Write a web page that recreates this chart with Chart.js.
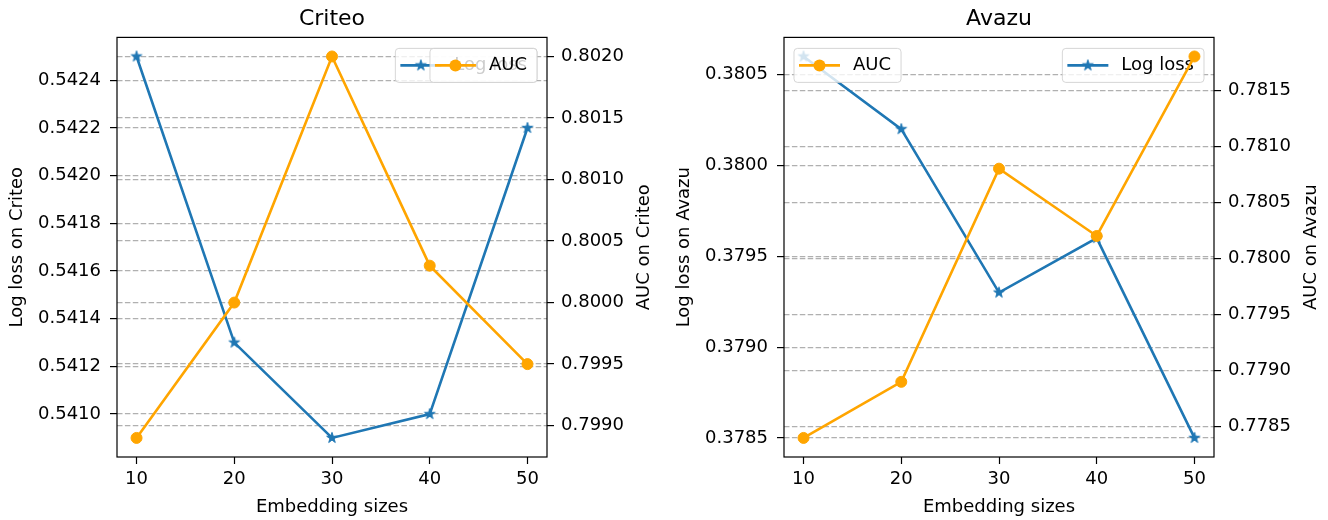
<!DOCTYPE html>
<html>
<head>
<meta charset="utf-8">
<script src="https://cdn.jsdelivr.net/npm/chart.js@4.4.1/dist/chart.umd.min.js"></script>
<style>
  html, body { margin: 0; padding: 0; background: #fff; }
  #wrap { position: relative; width: 1328px; height: 520px; }
  .panel { position: absolute; top: 0; width: 664px; height: 520px; }
</style>
</head>
<body>
<div id="wrap">
  <div class="panel" style="left:0"><canvas id="criteoChart" width="664" height="520"></canvas></div>
  <div class="panel" style="left:664px"><canvas id="avazuChart" width="664" height="520"></canvas></div>
</div>
<script>
// values
var embSizes = [10, 20, 30, 40, 50];
var criteoLogloss = [0.5425, 0.5413, 0.5409, 0.5410, 0.5422];
var criteoAuc = [0.7989, 0.8000, 0.8020, 0.8003, 0.7995];
var avazuLogloss = [0.3806, 0.3802, 0.3793, 0.3796, 0.3785];
var avazuAuc = [0.7784, 0.7789, 0.7808, 0.7802, 0.7818];

var criteoLossTicks = [0.5410, 0.5412, 0.5414, 0.5416, 0.5418, 0.5420, 0.5422, 0.5424];
var criteoAucTicks = [0.7990, 0.7995, 0.8000, 0.8005, 0.8010, 0.8015, 0.8020];
var avazuLossTicks = [0.3785, 0.3790, 0.3795, 0.3800, 0.3805];
var avazuAucTicks = [0.7785, 0.7790, 0.7795, 0.7800, 0.7805, 0.7810, 0.7815];

var BLUE = '#1f77b4';
var ORANGE = '#ffa500';
var FONT = '"DejaVu Sans"';

Chart.defaults.font.family = FONT;
Chart.defaults.color = '#000';

// matplotlib style autoscale: 5% margin
function padRange(vals) {
  var lo = Math.min.apply(null, vals), hi = Math.max.apply(null, vals);
  var m = (hi - lo) * 0.05;
  return { min: lo - m, max: hi + m };
}

// filled five point star like matplotlib '*'
function starCanvas(color, r) {
  var size = Math.ceil(2 * r + 4);
  var c = document.createElement('canvas');
  c.width = size; c.height = size;
  var g = c.getContext('2d');
  var cx = size / 2, cy = size / 2;
  g.beginPath();
  for (var i = 0; i < 10; i++) {
    var rad = i % 2 === 0 ? r : r * 0.381966;
    var a = -Math.PI / 2 + i * Math.PI / 5;
    var px = cx + rad * Math.cos(a), py = cy + rad * Math.sin(a);
    if (i === 0) g.moveTo(px, py); else g.lineTo(px, py);
  }
  g.closePath();
  g.fillStyle = color; g.fill();
  g.lineWidth = 1; g.strokeStyle = color; g.stroke();
  return c;
}
var starImg = starCanvas(BLUE, 5.6);

function roundRect(ctx, x, y, w, h, r) {
  ctx.beginPath();
  ctx.moveTo(x + r, y);
  ctx.arcTo(x + w, y, x + w, y + h, r);
  ctx.arcTo(x + w, y + h, x, y + h, r);
  ctx.arcTo(x, y + h, x, y, r);
  ctx.arcTo(x, y, x + w, y, r);
  ctx.closePath();
}

function drawLegendBox(chart, label, kind, side) {
  var ctx = chart.ctx, area = chart.chartArea;
  ctx.save();
  ctx.font = '18px ' + FONT;
  var tw = ctx.measureText(label).width;
  var w = 5 + 41 + 13 + tw + 10, h = 34;
  var x = side === 'right' ? area.right - 10 - w : area.left + 10;
  var y = area.top + 11;
  roundRect(ctx, x, y, w, h, 3.5);
  ctx.fillStyle = 'rgba(255,255,255,0.8)';
  ctx.fill();
  ctx.lineWidth = 1;
  ctx.strokeStyle = 'rgba(204,204,204,0.8)';
  ctx.stroke();

  var hy = y + h / 2;
  var color = kind === 'loss' ? BLUE : ORANGE;
  ctx.strokeStyle = color;
  ctx.lineWidth = 2.6;
  ctx.beginPath();
  ctx.moveTo(x + 5, hy);
  ctx.lineTo(x + 46, hy);
  ctx.stroke();
  var mx = x + 25.5;
  if (kind === 'loss') {
    ctx.drawImage(starImg, mx - starImg.width / 2, hy - starImg.height / 2);
  } else {
    ctx.fillStyle = ORANGE;
    ctx.beginPath();
    ctx.arc(mx, hy, 6, 0, Math.PI * 2);
    ctx.fill();
  }
  ctx.fillStyle = '#000';
  ctx.textAlign = 'left';
  ctx.textBaseline = 'middle';
  ctx.fillText(label, x + 59, hy);
  ctx.restore();
}

function makeDecor(cfg) {
  return {
    id: 'decor',
    afterDatasetDraw: function (chart, args) {
      // legend of the left axes sits under the AUC line
      if (args.index === 0) drawLegendBox(chart, 'Log loss', 'loss', cfg.lossLegend);
    },
    afterDatasetsDraw: function (chart) {
      var ctx = chart.ctx, a = chart.chartArea;
      ctx.save();
      ctx.strokeStyle = '#000';
      ctx.lineWidth = 1.2;
      ctx.strokeRect(a.left, a.top, a.right - a.left, a.bottom - a.top);
      ctx.restore();
      drawLegendBox(chart, 'AUC', 'auc', cfg.aucLegend);
    },
    afterDraw: function (chart) {
      var ctx = chart.ctx, a = chart.chartArea;
      var midY = (a.top + a.bottom) / 2;
      ctx.save();
      ctx.font = '18px ' + FONT;
      ctx.fillStyle = '#000';
      ctx.textAlign = 'center';
      ctx.textBaseline = 'middle';
      ctx.translate(a.left - 100, midY);
      ctx.rotate(-Math.PI / 2);
      ctx.fillText(cfg.lossTitle, 0, 0);
      ctx.restore();
      ctx.save();
      ctx.font = '18px ' + FONT;
      ctx.fillStyle = '#000';
      ctx.textAlign = 'center';
      ctx.textBaseline = 'middle';
      ctx.translate(a.right + 97, midY);
      ctx.rotate(-Math.PI / 2);
      ctx.fillText(cfg.aucTitle, 0, 0);
      ctx.restore();
    }
  };
}

function yAxis(pos, range, ticks, width, pad) {
  return {
    type: 'linear',
    position: pos,
    min: range.min,
    max: range.max,
    afterBuildTicks: function (s) { s.ticks = ticks.map(function (v) { return { value: v }; }); },
    afterFit: function (s) { s.width = width; },
    ticks: {
      font: { size: 18 }, color: '#000', padding: pad, autoSkip: false,
      callback: function (v) { return Number(v).toFixed(4); }
    },
    grid: {
      color: '#b0b0b0', lineWidth: 1.2,
      tickColor: '#000', tickWidth: 1.2, tickLength: 7
    },
    border: { display: false, dash: [5.5, 2.4] }
  };
}

function buildChart(canvasId, cfg) {
  var xr = padRange(embSizes);
  var lossRange = padRange(cfg.loss);
  var aucRange = padRange(cfg.auc);
  var toPts = function (ys) { return embSizes.map(function (x, i) { return { x: x, y: ys[i] }; }); };

  return new Chart(document.getElementById(canvasId), {
    type: 'line',
    data: {
      datasets: [{
        label: 'Log loss',
        data: toPts(cfg.loss),
        yAxisID: 'yLoss',
        borderColor: BLUE,
        backgroundColor: BLUE,
        borderWidth: 2.6,
        tension: 0,
        pointStyle: starImg,
        pointRadius: 6,
        order: 2
      }, {
        label: 'AUC',
        data: toPts(cfg.auc),
        yAxisID: 'yAuc',
        borderColor: ORANGE,
        backgroundColor: ORANGE,
        pointBackgroundColor: ORANGE,
        pointBorderColor: ORANGE,
        borderWidth: 2.6,
        tension: 0,
        pointStyle: 'circle',
        pointRadius: 5.5,
        pointBorderWidth: 1,
        order: 1
      }]
    },
    options: {
      responsive: false,
      animation: false,
      devicePixelRatio: 1,
      layout: { padding: { left: cfg.padLeft, right: 0, top: 0, bottom: 0 } },
      plugins: {
        legend: { display: false },
        tooltip: { enabled: false },
        title: {
          display: true,
          text: cfg.title,
          color: '#000',
          font: { size: 22, weight: 'normal' },
          padding: { top: 6, bottom: 5 }
        }
      },
      scales: {
        x: {
          type: 'linear',
          min: xr.min,
          max: xr.max,
          afterBuildTicks: function (s) { s.ticks = embSizes.map(function (v) { return { value: v }; }); },
          afterFit: function (s) { s.height = 63; },
          ticks: { font: { size: 18 }, color: '#000', padding: 5, maxRotation: 0, autoSkip: false },
          grid: { drawOnChartArea: false, tickColor: '#000', tickWidth: 1.2, tickLength: 7 },
          border: { display: false },
          title: {
            display: true, text: 'Embedding sizes', color: '#000',
            font: { size: 18 }, padding: { top: 0, bottom: 2 }
          }
        },
        yLoss: yAxis('left', lossRange, cfg.lossTicks, cfg.leftW, 9),
        yAuc: yAxis('right', aucRange, cfg.aucTicks, cfg.rightW, 7)
      }
    },
    plugins: [makeDecor(cfg)]
  });
}

buildChart('criteoChart', {
  title: 'Criteo',
  loss: criteoLogloss, auc: criteoAuc,
  lossTicks: criteoLossTicks, aucTicks: criteoAucTicks,
  lossTitle: 'Log loss on Criteo', aucTitle: 'AUC on Criteo',
  lossLegend: 'right', aucLegend: 'right',
  padLeft: 0, leftW: 117, rightW: 117
});

buildChart('avazuChart', {
  title: 'Avazu',
  loss: avazuLogloss, auc: avazuAuc,
  lossTicks: avazuLossTicks, aucTicks: avazuAucTicks,
  lossTitle: 'Log loss on Avazu', aucTitle: 'AUC on Avazu',
  lossLegend: 'right', aucLegend: 'left',
  padLeft: 6, leftW: 114, rightW: 114
});
</script>
</body>
</html>
